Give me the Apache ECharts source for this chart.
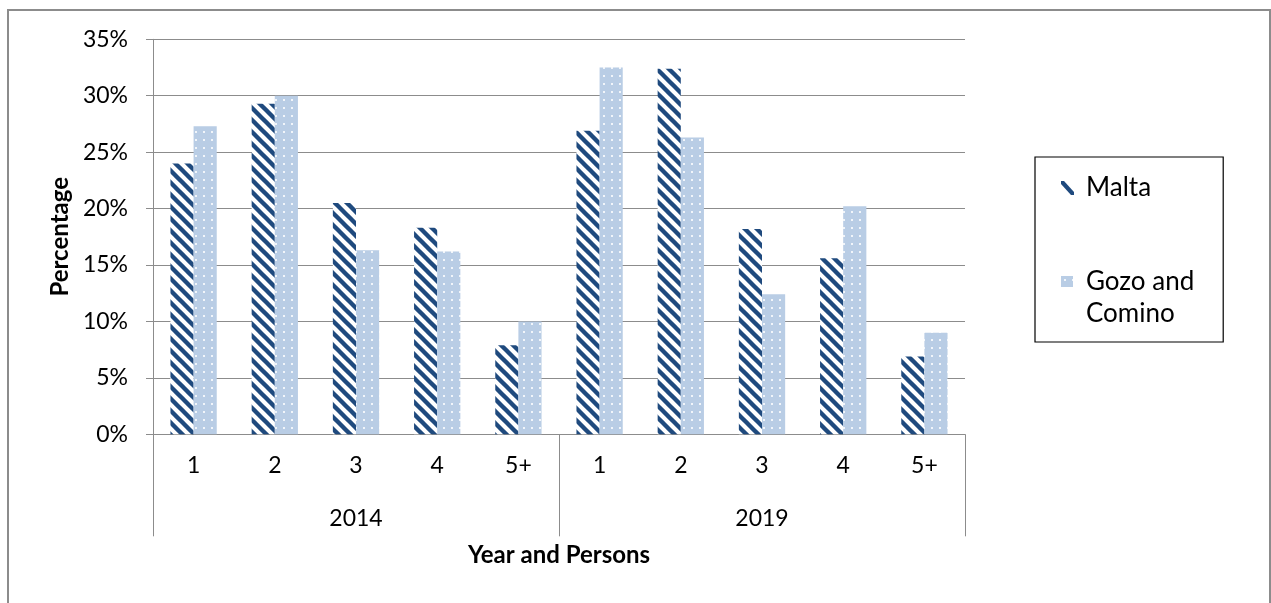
<!DOCTYPE html>
<html>
<head>
<meta charset="utf-8">
<script src="https://cdn.jsdelivr.net/npm/echarts@6/dist/echarts.min.js"></script>
<style>
html,body{margin:0;padding:0;background:#fff;}
#chart{width:1271px;height:603px;}
</style>
</head>
<body>
<div id="chart"></div>
<script>
// ---- data ----
const personCategories = ['1', '2', '3', '4', '5+', '1', '2', '3', '4', '5+'];
const yearCategories = ['2014', '2019'];
const maltaValues = [0.240, 0.293, 0.205, 0.183, 0.079, 0.269, 0.324, 0.182, 0.156, 0.069];
const gozoValues  = [0.273, 0.300, 0.163, 0.162, 0.100, 0.325, 0.263, 0.124, 0.202, 0.090];
const yTicks = [0, 0.05, 0.10, 0.15, 0.20, 0.25, 0.30, 0.35];

// ---- patterns ----
function stripePattern() {
  const s = 12;
  const c = document.createElement('canvas');
  c.width = s; c.height = s;
  const g = c.getContext('2d');
  g.fillStyle = '#ffffff';
  g.fillRect(0, 0, s, s);
  g.strokeStyle = '#1F4A7E';
  g.lineWidth = 4.4;
  for (let k = -3; k <= 3; k++) {
    g.beginPath();
    g.moveTo(-s, s * k - s);
    g.lineTo(2 * s, s * k + 2 * s);
    g.stroke();
  }
  return { image: c, repeat: 'repeat' };
}
function dotPattern() {
  const w = 8, h = 8;
  const c = document.createElement('canvas');
  c.width = w; c.height = h;
  const g = c.getContext('2d');
  g.fillStyle = '#B9CDE5';
  g.fillRect(0, 0, w, h);
  g.fillStyle = 'rgba(255,255,255,0.8)';
  g.fillRect(3, 3, 2, 2);
  return { image: c, repeat: 'repeat' };
}

const chart = echarts.init(document.getElementById('chart'), null, { renderer: 'canvas' });
const FONT = 'Lato, "Open Sans", sans-serif';
const gray = '#8C8C8C';

const option = {
  backgroundColor: '#ffffff',
  animation: false,
  graphic: [{
    type: 'rect',
    shape: { x: 8, y: 10, width: 1262, height: 620 },
    style: { fill: 'none', stroke: gray, lineWidth: 2 },
    silent: true
  }],
  grid: { left: 153, right: 306, top: 39.3, bottom: 168.7, containLabel: false },
  legend: {
    orient: 'vertical',
    left: 1035,
    top: 157,
    padding: [9, 29, 12, 26],
    itemGap: 56,
    itemWidth: 20,
    itemHeight: 44,
    symbolKeepAspect: false,
    borderColor: '#000',
    borderWidth: 1.2,
    textStyle: { fontFamily: FONT, fontSize: 26, color: '#000', lineHeight: 32 },
    data: [
      {
        name: 'Malta',
        icon: 'path://M0,0L0,0M0,15L3,15L13,26L13,29L10,29L0,18ZM20,44L20,44',
        itemStyle: { color: '#1F4A7E' }
      },
      {
        name: 'Gozo and\nComino',
        icon: 'path://M0,0L12,0L12,11L0,11ZM20,44L20,44',
        itemStyle: { color: dotPattern() }
      }
    ]
  },
  xAxis: [
    {
      type: 'category',
      data: personCategories,
      position: 'bottom',
      axisLine: { show: true, lineStyle: { color: gray, width: 1 } },
      axisTick: { show: false },
      axisLabel: { fontFamily: FONT, fontSize: 23, color: '#000', margin: 20, interval: 0 },
      splitLine: { show: false }
    },
    {
      type: 'category',
      data: yearCategories,
      position: 'bottom',
      gridIndex: 0,
      axisLine: { show: false },
      axisTick: { show: true, length: 102, interval: 0, lineStyle: { color: gray, width: 1 } },
      axisLabel: { fontFamily: FONT, fontSize: 23, color: '#000', margin: 73, interval: 0 },
      name: 'Year and Persons',
      nameLocation: 'middle',
      nameGap: 109,
      nameTextStyle: { fontFamily: FONT, fontSize: 24, fontWeight: 'bold', color: '#000' }
    }
  ],
  yAxis: {
    type: 'value',
    min: 0,
    max: 0.35,
    interval: 0.05,
    name: 'Percentage',
    nameLocation: 'middle',
    nameGap: 78,
    nameTextStyle: { fontFamily: FONT, fontSize: 24, fontWeight: 'bold', color: '#000' },
    axisLine: { show: true, lineStyle: { color: gray, width: 1 } },
    axisTick: { show: true, length: 7, lineStyle: { color: gray } },
    axisLabel: {
      fontFamily: FONT, fontSize: 23, color: '#000', margin: 25,
      formatter: function (v) {
        const idx = yTicks.findIndex(t => Math.abs(t - v) < 1e-9);
        return Math.round((idx >= 0 ? yTicks[idx] : v) * 100) + '%';
      }
    },
    splitLine: { show: true, lineStyle: { color: gray, width: 1 } }
  },
  series: [
    {
      name: 'Malta',
      type: 'bar',
      xAxisIndex: 0,
      data: maltaValues,
      barGap: '0%',
      barCategoryGap: '43%',
      itemStyle: { color: stripePattern() }
    },
    {
      name: 'Gozo and\nComino',
      type: 'bar',
      xAxisIndex: 0,
      data: gozoValues,
      itemStyle: { color: dotPattern() }
    }
  ]
};
chart.setOption(option);
</script>
</body>
</html>
